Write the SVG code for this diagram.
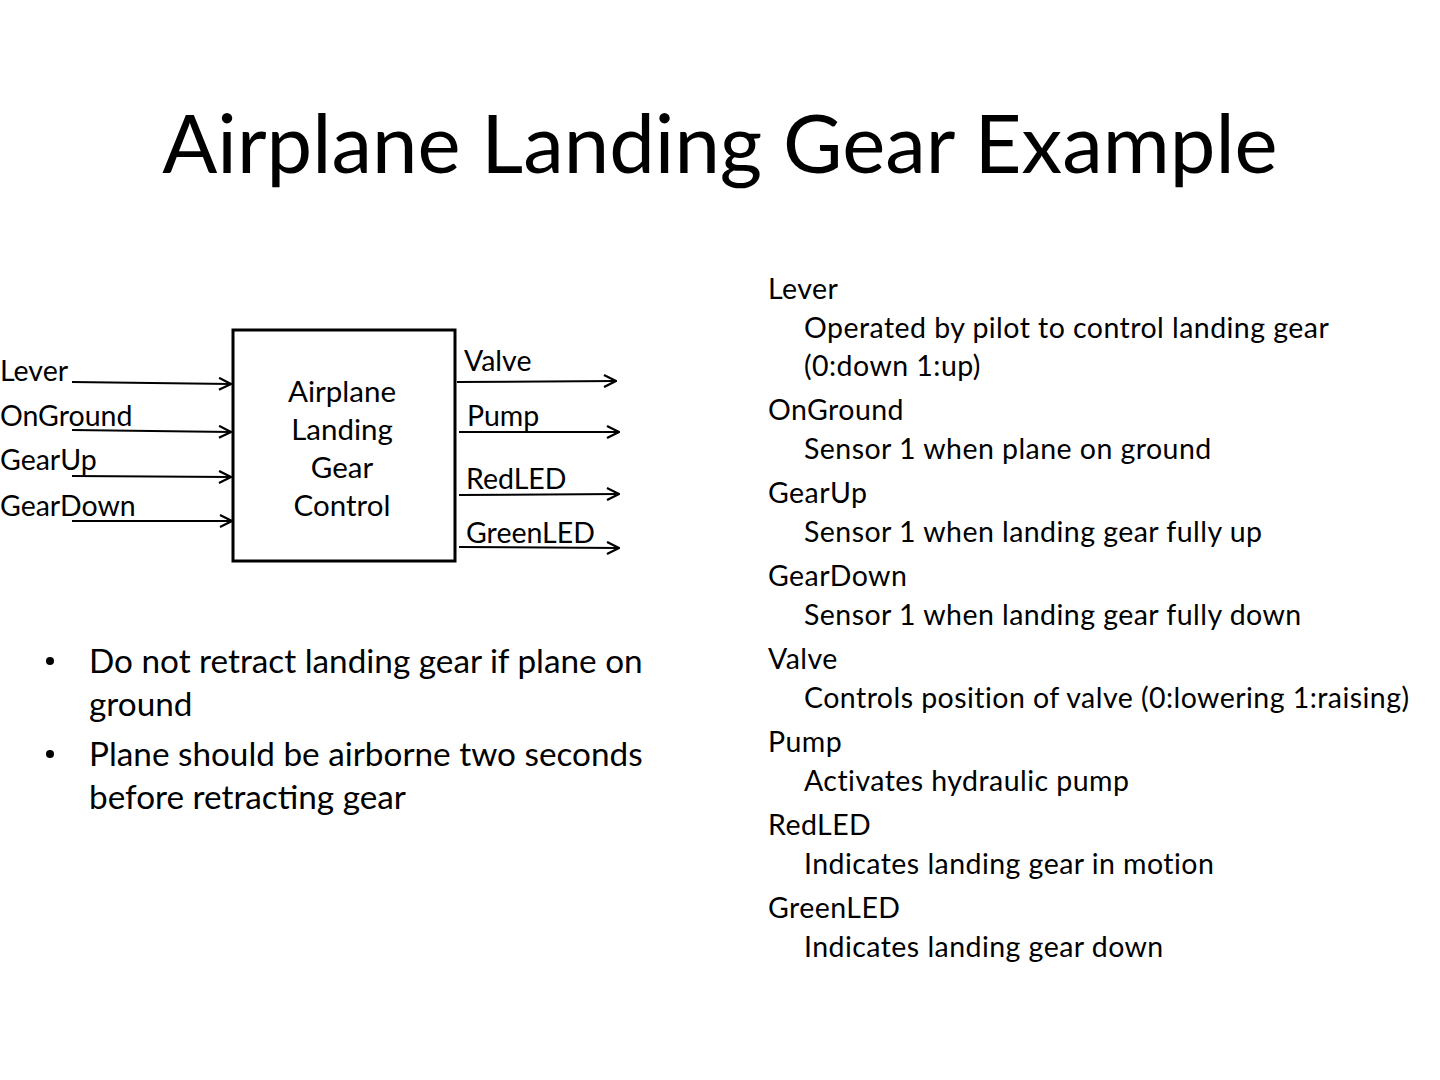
<svg xmlns="http://www.w3.org/2000/svg" width="1440" height="1080" viewBox="0 0 1440 1080">
<style>
text{font-family:Lato,"Liberation Sans",sans-serif;fill:#000}
.t{font-size:81.5px}
.s{font-size:28.5px}
.m{font-size:29.5px}
.d{font-size:28.5px;letter-spacing:0.45px}
.b{font-size:33.3px}
.c{stroke:#000;stroke-width:2;fill:none}
</style>
<defs>
<marker id="ah" viewBox="0 0 14 14" refX="13" refY="7" markerWidth="14" markerHeight="14" markerUnits="userSpaceOnUse" orient="auto">
<path d="M1,1 L13,7 L1,13" fill="none" stroke="#000" stroke-width="2.2"/>
</marker>
</defs>
<rect width="1440" height="1080" fill="#fff"/>
<text class="t" x="720" y="173" text-anchor="middle">Airplane Landing Gear Example</text>
<g id="control">
<rect x="233" y="330" width="222" height="231" fill="none" stroke="#000" stroke-width="3"/>
<text class="m" x="342" y="402" text-anchor="middle">Airplane</text>
<text class="m" x="342" y="440" text-anchor="middle">Landing</text>
<text class="m" x="342" y="478" text-anchor="middle">Gear</text>
<text class="m" x="342" y="516" text-anchor="middle">Control</text>
</g>
<g id="labels">
<text class="s" x="0" y="381">Lever</text>
<text class="s" x="0" y="426">OnGround</text>
<text class="s" x="0" y="470">GearUp</text>
<text class="s" x="0" y="516">GearDown</text>
<text class="s" x="464" y="371">Valve</text>
<text class="s" x="467" y="426">Pump</text>
<text class="s" x="466" y="489">RedLED</text>
<text class="s" x="466" y="543">GreenLED</text>
</g>
<g id="connectors">
<line class="c" x1="72" y1="382" x2="231" y2="384" marker-end="url(#ah)"/>
<line class="c" x1="72" y1="430" x2="231" y2="432" marker-end="url(#ah)"/>
<line class="c" x1="72" y1="476" x2="231" y2="477" marker-end="url(#ah)"/>
<line class="c" x1="72" y1="521" x2="232" y2="521" marker-end="url(#ah)"/>
<line class="c" x1="457" y1="382" x2="616" y2="381" marker-end="url(#ah)"/>
<line class="c" x1="459" y1="432" x2="619" y2="432" marker-end="url(#ah)"/>
<line class="c" x1="459" y1="495" x2="619" y2="494" marker-end="url(#ah)"/>
<line class="c" x1="459" y1="547" x2="619" y2="548" marker-end="url(#ah)"/>
</g>
<g id="defs-list">
<text class="d" x="768" y="299">Lever</text>
<text class="d" x="804" y="338">Operated by pilot to control landing gear</text>
<text class="d" x="804" y="376">(0:down 1:up)</text>
<text class="d" x="768" y="420">OnGround</text>
<text class="d" x="804" y="459">Sensor 1 when plane on ground</text>
<text class="d" x="768" y="503">GearUp</text>
<text class="d" x="804" y="542">Sensor 1 when landing gear fully up</text>
<text class="d" x="768" y="586">GearDown</text>
<text class="d" x="804" y="625">Sensor 1 when landing gear fully down</text>
<text class="d" x="768" y="669">Valve</text>
<text class="d" x="804" y="708">Controls position of valve (0:lowering 1:raising)</text>
<text class="d" x="768" y="752">Pump</text>
<text class="d" x="804" y="791">Activates hydraulic pump</text>
<text class="d" x="768" y="835">RedLED</text>
<text class="d" x="804" y="874">Indicates landing gear in motion</text>
<text class="d" x="768" y="918">GreenLED</text>
<text class="d" x="804" y="957">Indicates landing gear down</text>
</g>
<g id="bullets">
<circle cx="50" cy="661" r="4"/>
<circle cx="50" cy="754" r="4"/>
<text class="b" x="89" y="673">Do not retract landing gear if plane on</text>
<text class="b" x="89" y="716">ground</text>
<text class="b" x="89" y="766">Plane should be airborne two seconds</text>
<text class="b" x="89" y="809">before retracting gear</text>
</g>
</svg>
